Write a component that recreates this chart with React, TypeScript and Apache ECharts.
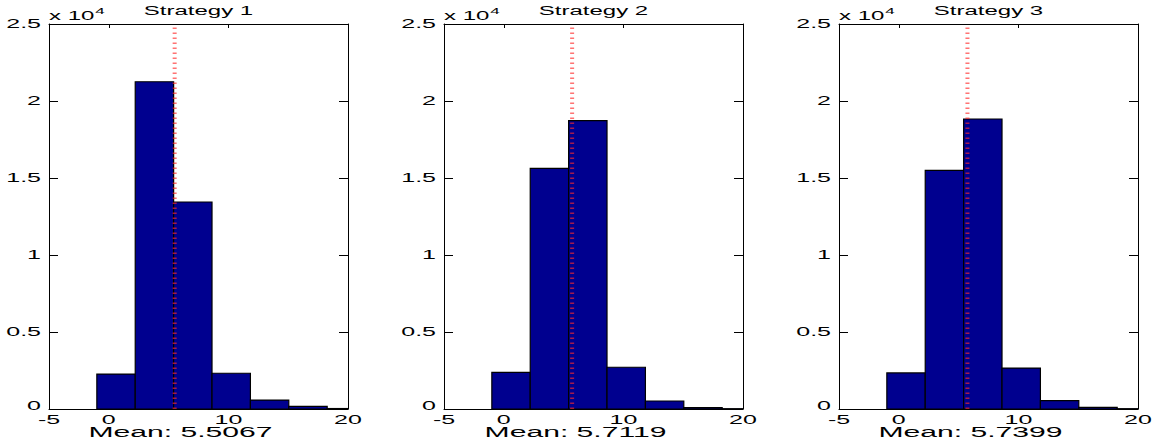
import React, { useEffect, useRef } from "react";
import * as echarts from "echarts";

const titles = ["Strategy 1", "Strategy 2", "Strategy 3"];
const means = [5.5067, 5.7119, 5.7399];
const binEdges = [-1.0, 2.21, 5.42, 8.63, 11.84, 15.05, 18.26, 21.47];
const counts1 = [2270, 21250, 13440, 2320, 580, 170, 30];
const counts2 = [2380, 15630, 18720, 2710, 520, 85, 20];
const counts3 = [2340, 15500, 18830, 2660, 540, 110, 20];
const allCounts = [counts1, counts2, counts3];
const xTicks = [-5, 0, 10, 20];
const xTickLabels = ["-5", "0", "10", "20"];
const yTicks = [0, 5000, 10000, 15000, 20000, 25000];
const yTickLabels = ["0", "0.5", "1", "1.5", "2", "2.5"];
const xMin = -5;
const xMax = 20;
const yMin = 0;
const yMax = 25000;

const FONT = '"Liberation Sans", Arial, Helvetica, sans-serif';
const gridLefts = [49, 444, 839];
const GRID_TOP = 24;
const GRID_W = 299;
const GRID_H = 385;
const BAR_COLOR = "#00008F";
const STRETCH = 2.0;

function measure(text: string, size: number) {
  const c = document.createElement("canvas").getContext("2d");
  if (!c) return text.length * size * 0.55;
  c.font = `${size}px ${FONT}`;
  return c.measureText(text).width;
}

export default function App() {
  const ref = useRef<HTMLDivElement>(null);
  useEffect(() => {
    if (!ref.current) return;
    const chart = echarts.init(ref.current, null, { renderer: "svg" });
    const grids: any[] = [];
    const xAxes: any[] = [];
    const yAxes: any[] = [];
    const series: any[] = [];
    const lineStyle = { color: "#000", width: 1 };
    for (let i = 0; i < 3; i++) {
      grids.push({ left: gridLefts[i], top: GRID_TOP, width: GRID_W, height: GRID_H, containLabel: false });
      const xBase = {
        type: "value", gridIndex: i, min: xMin, max: xMax,
        axisLine: { show: true, onZero: false, lineStyle },
        axisTick: { show: true, inside: true, length: 4, customValues: xTicks, lineStyle },
        axisLabel: { show: false },
        splitLine: { show: false },
      };
      xAxes.push({ ...xBase, position: "bottom" });
      xAxes.push({ ...xBase, position: "top" });
      const yBase = {
        type: "value", gridIndex: i, min: yMin, max: yMax, interval: 5000,
        axisLine: { show: true, onZero: false, lineStyle },
        axisTick: { show: true, inside: true, length: 9, lineStyle },
        axisLabel: { show: false },
        splitLine: { show: false },
      };
      yAxes.push({ ...yBase, position: "left" });
      yAxes.push({ ...yBase, position: "right" });
      const counts = allCounts[i];
      series.push({
        type: "custom",
        xAxisIndex: 2 * i,
        yAxisIndex: 2 * i,
        data: counts.map((c, k) => [binEdges[k], binEdges[k + 1], c]),
        encode: { x: [0, 1], y: 2 },
        clip: true,
        renderItem: (params: any, api: any) => {
          const p0 = api.coord([api.value(0), api.value(2)]);
          const p1 = api.coord([api.value(1), 0]);
          const cs = params.coordSys;
          const rect = echarts.graphic.clipRectByRect(
            { x: p0[0], y: p0[1], width: p1[0] - p0[0], height: p1[1] - p0[1] },
            { x: cs.x, y: cs.y, width: cs.width, height: cs.height }
          );
          if (!rect) return null;
          return {
            type: "rect",
            shape: rect,
            style: { fill: BAR_COLOR, stroke: "#000", lineWidth: 1.2 },
          };
        },
        z: 2,
      });
      series.push({
        type: "line",
        xAxisIndex: 2 * i,
        yAxisIndex: 2 * i,
        data: [[means[i], yMin], [means[i], yMax]],
        symbol: "none",
        lineStyle: { color: "rgba(255,40,40,0.65)", width: 4, type: [1.5, 3.5] },
        z: 5,
      });
    }
    chart.setOption({
      animation: false,
      backgroundColor: "#fff",
      grid: grids,
      xAxis: xAxes,
      yAxis: yAxes,
      series,
    });

    const g: any[] = [];
    const txt = (text: string, x: number, y: number, size: number, align: string, vAlign: string, sx: number) => ({
      type: "text",
      x, y, scaleX: sx,
      silent: true,
      style: { text, font: `${size}px ${FONT}`, fill: "#000", align, verticalAlign: vAlign, textAlign: align, textVerticalAlign: vAlign },
    });
    for (let i = 0; i < 3; i++) {
      const toPx = (x: number, y: number) => chart.convertToPixel({ seriesIndex: 2 * i }, [x, y]) as number[];
      const tl = toPx(xMin, yMax);
      const br = toPx(xMax, yMin);
      const cx = (tl[0] + br[0]) / 2;
      xTicks.forEach((v, k) => {
        const p = toPx(v, yMin);
        g.push(txt(xTickLabels[k], p[0], p[1] + 11, 12.5, "center", "middle", STRETCH));
      });
      yTicks.forEach((v, k) => {
        const p = toPx(xMin, v);
        g.push(txt(yTickLabels[k], p[0] - 8, k === 0 ? p[1] - 3 : p[1], 12.5, "right", "middle", STRETCH));
      });
      g.push(txt(titles[i], cx, tl[1] - 13, 12, "center", "middle", STRETCH));
      g.push(txt("Mean: " + means[i].toFixed(4), cx - 18, br[1] + 23, 14, "center", "middle", 2.15));
      const baseW = measure("x 10", 12) * STRETCH;
      g.push(txt("x 10", tl[0], tl[1] - 8, 12, "left", "middle", STRETCH));
      g.push(txt("4", tl[0] + baseW + 1, tl[1] - 13, 8.5, "left", "middle", STRETCH));
    }
    chart.setOption({ graphic: { elements: g } });
    return () => chart.dispose();
  }, []);
  return (
    <div
      ref={ref}
      style={{ position: "absolute", left: 0, top: 0, width: 1161, height: 446, background: "#fff" }}
    />
  );
}
